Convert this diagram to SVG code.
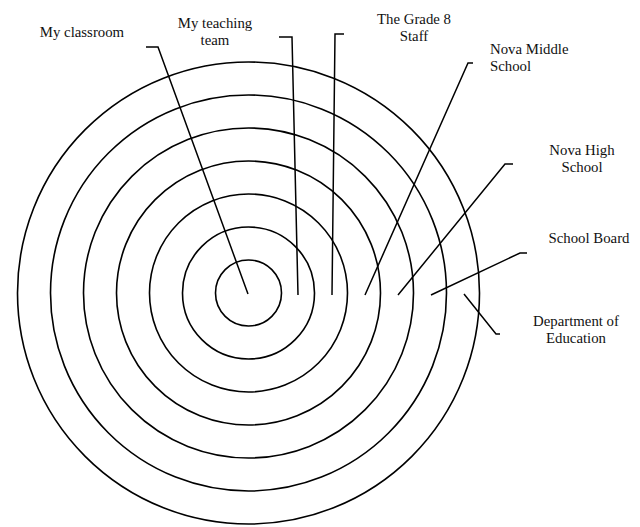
<svg xmlns="http://www.w3.org/2000/svg" width="640" height="527" viewBox="0 0 640 527">
<style>
.ring{fill:none;stroke:#000;stroke-width:1.6}
.ln{fill:none;stroke:#000;stroke-width:1.5;stroke-linejoin:miter}
text{font-family:"Liberation Serif","Times New Roman",serif;font-size:14.8px;fill:#111}
.c{text-anchor:middle}
</style>
<rect width="640" height="527" fill="#fff"/>
<g id="rings">
<g id="ring-education"><circle class="ring" cx="248.5" cy="293" r="231"/></g>
<g id="ring-board"><circle class="ring" cx="248.5" cy="293" r="198"/></g>
<g id="ring-high"><circle class="ring" cx="248.5" cy="293" r="165"/></g>
<g id="ring-middle"><circle class="ring" cx="248.5" cy="293" r="132"/></g>
<g id="ring-grade8"><circle class="ring" cx="248.5" cy="293" r="99"/></g>
<g id="ring-team"><circle class="ring" cx="248.5" cy="293" r="66"/></g>
<g id="ring-classroom"><circle class="ring" cx="248.5" cy="293" r="33"/></g>
</g>
<g id="connectors">
<polyline class="ln" points="146,47 158,47 248,294"/>
<polyline class="ln" points="279,37 292,37 298,295"/>
<polyline class="ln" points="344,34 335,34 332,295"/>
<polyline class="ln" points="473,63 468,63 365,295"/>
<polyline class="ln" points="513,164 505,164 398,295"/>
<polyline class="ln" points="527,253 520,253 431,295"/>
<polyline class="ln" points="464,294 496,334 500,334"/>
</g>
<g id="label-classroom"><text x="82" y="37" class="c">My classroom</text></g>
<g id="label-team"><text class="c" x="215" y="28">My teaching</text><text class="c" x="215" y="45">team</text></g>
<g id="label-grade8"><text class="c" x="414" y="24">The Grade 8</text><text class="c" x="414" y="41">Staff</text></g>
<g id="label-middle"><text x="490" y="54">Nova Middle</text><text x="490" y="71">School</text></g>
<g id="label-high"><text class="c" x="582" y="155">Nova High</text><text class="c" x="582" y="172">School</text></g>
<g id="label-board"><text class="c" x="589" y="243">School Board</text></g>
<g id="label-education"><text class="c" x="576" y="326">Department of</text><text class="c" x="576" y="343">Education</text></g>
</svg>
